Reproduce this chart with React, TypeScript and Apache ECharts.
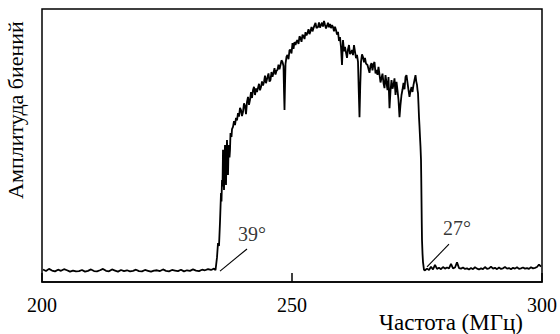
import React, { useEffect, useRef } from "react";
import * as echarts from "echarts";

// Frequency axis ticks (MHz)
const xTicks = [200, 250, 300];

// Noise floor below the band: [frequency MHz, amplitude a.u.]
const baselineLeft: number[][] = [
  [200.2, 4.6], [200.8, 4.0], [201.4, 4.8], [202.0, 4.2], [202.6, 3.9], [203.2, 4.5],
  [203.8, 4.1], [204.4, 4.7], [205.0, 4.3], [205.6, 3.8], [206.2, 4.2], [206.8, 3.9],
  [207.4, 4.0], [208.0, 4.4], [208.6, 3.8], [209.2, 4.1], [209.8, 4.6], [210.4, 4.0],
  [211.0, 3.9], [211.6, 4.3], [212.2, 4.8], [212.8, 4.1], [213.4, 3.9], [214.0, 4.6],
  [214.6, 4.2], [215.2, 3.8], [215.8, 4.4], [216.4, 4.0], [217.0, 4.3], [217.6, 3.9],
  [218.2, 4.1], [218.8, 4.5], [219.4, 4.0], [220.0, 3.9], [220.6, 4.4], [221.2, 4.1],
  [221.8, 3.8], [222.4, 4.2], [223.0, 4.3], [223.6, 4.0], [224.2, 4.6], [224.8, 4.1],
  [225.4, 3.9], [226.0, 4.4], [226.6, 4.2], [227.2, 4.0], [227.8, 4.5], [228.4, 3.9],
  [229.0, 4.3], [229.6, 4.1], [230.2, 4.6], [230.8, 4.2], [231.4, 4.0], [232.0, 4.5],
  [232.6, 4.3], [233.2, 4.7], [233.8, 4.4], [234.4, 4.9], [234.7, 4.3],
];

// Beat-signal band between ~235 and ~276 MHz
const band: number[][] = [
  [235.0, 9.0], [235.2, 14.3], [235.4, 13.2], [235.6, 22.0], [235.8, 32.6], [235.9, 29.5],
  [236.0, 37.4], [236.1, 35.0], [236.2, 48.4], [236.3, 40.1], [236.4, 33.7], [236.5, 44.0],
  [236.6, 50.2], [236.7, 41.0], [236.8, 35.5], [236.9, 46.3], [237.0, 52.0], [237.1, 44.8],
  [237.2, 39.2], [237.3, 47.5], [237.4, 50.2], [237.5, 45.6], [237.6, 48.4], [237.7, 54.6],
  [237.9, 53.1], [238.0, 56.0], [238.2, 56.8], [238.4, 58.9], [238.6, 57.5], [238.8, 60.1],
  [239.0, 59.2], [239.2, 61.9], [239.4, 60.6], [239.6, 63.8], [239.8, 63.0], [240.0, 60.8],
  [240.2, 62.3], [240.4, 65.4], [240.6, 64.5], [240.8, 61.5], [241.0, 66.0], [241.2, 67.8],
  [241.4, 64.9], [241.6, 66.7], [241.8, 69.6], [242.0, 67.4], [242.2, 70.3], [242.4, 71.5],
  [242.6, 68.5], [242.8, 70.9], [243.0, 69.6], [243.2, 71.1], [243.4, 72.6], [243.6, 70.2],
  [243.8, 71.4], [244.0, 73.5], [244.2, 72.0], [244.4, 73.3], [244.6, 75.6], [244.8, 72.8],
  [245.1, 75.1], [245.3, 76.4], [245.5, 73.4], [245.7, 74.0], [245.9, 76.9], [246.1, 75.2],
  [246.3, 76.6], [246.5, 78.3], [246.7, 76.0], [246.9, 77.4], [247.1, 77.7], [247.3, 79.6],
  [247.5, 77.9], [247.7, 79.5], [247.9, 81.2], [248.1, 80.6], [248.3, 79.1], [248.4, 70.0],
  [248.5, 63.0], [248.6, 72.0], [248.7, 79.9], [248.9, 82.5], [249.1, 83.2], [249.3, 81.6],
  [249.5, 84.9], [249.7, 85.0], [249.9, 83.7], [250.1, 87.5], [250.3, 85.4], [250.5, 87.9],
  [250.7, 86.8], [250.9, 88.1], [251.1, 88.6], [251.3, 87.2], [251.5, 90.0], [251.7, 89.4],
  [251.9, 88.0], [252.1, 90.6], [252.3, 90.1], [252.5, 89.0], [252.7, 91.5], [252.9, 90.3],
  [253.1, 91.2], [253.3, 92.6], [253.5, 90.8], [253.7, 91.9], [253.9, 93.4], [254.1, 91.8],
  [254.3, 93.0], [254.5, 94.0], [254.7, 94.9], [254.9, 93.0], [255.2, 93.4], [255.4, 95.1],
  [255.6, 93.2], [255.8, 94.1], [256.0, 95.0], [256.2, 93.6], [256.4, 95.6], [256.6, 94.2],
  [256.8, 92.9], [257.0, 93.8], [257.2, 95.0], [257.4, 93.3], [257.6, 94.5], [257.8, 93.0],
  [258.0, 94.1], [258.2, 93.4], [258.4, 91.8], [258.6, 93.5], [258.8, 92.3], [259.0, 90.6],
  [259.2, 91.6], [259.4, 88.3], [259.6, 89.7], [259.8, 86.0], [260.0, 79.5], [260.1, 84.0],
  [260.2, 88.6], [260.4, 84.5], [260.6, 86.1], [260.8, 84.0], [261.0, 82.1], [261.2, 85.3],
  [261.4, 86.8], [261.6, 83.5], [261.8, 84.0], [262.0, 85.0], [262.2, 83.1], [262.4, 86.8],
  [262.6, 84.4], [262.8, 82.0], [263.0, 83.2], [263.2, 80.6], [263.35, 70.0], [263.5, 60.4],
  [263.65, 72.0], [263.8, 80.6], [264.0, 83.4], [264.2, 82.4], [264.4, 80.5], [264.6, 82.1],
  [264.8, 80.0], [265.1, 79.5], [265.3, 78.0], [265.5, 76.6], [265.7, 79.3], [265.9, 80.2],
  [266.1, 77.5], [266.3, 79.8], [266.5, 80.6], [266.7, 76.4], [266.9, 77.7], [267.1, 75.9],
  [267.3, 78.8], [267.5, 76.0], [267.7, 73.1], [267.9, 74.7], [268.1, 76.3], [268.3, 72.9],
  [268.5, 71.0], [268.7, 75.8], [268.9, 73.0], [269.1, 70.3], [269.3, 75.1], [269.4, 69.0],
  [269.5, 63.7], [269.7, 70.0], [269.9, 74.0], [270.1, 70.8], [270.3, 72.2], [270.5, 74.6],
  [270.7, 68.5], [270.9, 73.3], [271.1, 70.2], [271.3, 66.7], [271.5, 60.4], [271.7, 65.0],
  [271.9, 68.5], [272.1, 70.5], [272.3, 72.9], [272.5, 70.6], [272.7, 75.1], [272.9, 75.8],
  [273.1, 73.0], [273.3, 70.3], [273.5, 67.8], [273.7, 70.0], [273.9, 71.4], [274.1, 69.6],
  [274.3, 72.2], [274.5, 74.0], [274.7, 75.8], [274.85, 73.5], [275.0, 72.2], [275.1, 70.4],
  [275.2, 69.2], [275.3, 65.0], [275.4, 60.4], [275.5, 57.0], [275.6, 53.1], [275.7, 49.5],
  [275.8, 44.7], [275.85, 38.0], [275.9, 30.0], [275.95, 22.0], [276.0, 15.4], [276.1, 10.5],
  [276.2, 7.3], [276.4, 4.4],
];

// Noise floor above the band
const baselineRight: number[][] = [
  [276.6, 4.3], [277.0, 4.9], [277.4, 4.4], [277.8, 5.6], [278.2, 4.6], [278.6, 6.3],
  [279.0, 4.8], [279.4, 5.2], [279.8, 4.7], [280.2, 5.5], [280.6, 4.9], [281.0, 5.3],
  [281.4, 5.0], [281.8, 6.6], [282.2, 5.0], [282.6, 5.3], [283.0, 7.2], [283.4, 5.1],
  [283.8, 4.9], [284.2, 5.3], [284.6, 4.8], [285.0, 5.0], [285.4, 4.6], [285.8, 5.1],
  [286.2, 4.7], [286.6, 5.4], [287.0, 4.9], [287.4, 4.6], [287.8, 5.0], [288.2, 4.7],
  [288.6, 5.5], [289.0, 4.8], [289.4, 5.0], [289.8, 5.6], [290.2, 4.9], [290.6, 5.2],
  [291.0, 4.7], [291.4, 5.3], [291.8, 4.8], [292.2, 5.0], [292.6, 5.5], [293.0, 4.9],
  [293.4, 5.1], [293.8, 4.7], [294.2, 5.2], [294.6, 4.9], [295.0, 5.4], [295.4, 4.8],
  [295.8, 5.0], [296.2, 5.3], [296.6, 4.9], [297.0, 5.1], [297.4, 4.8], [297.8, 5.4],
  [298.2, 5.0], [298.6, 5.2], [299.0, 5.5], [299.4, 6.4], [299.8, 5.6],
];

// Edge-angle annotations
const angleLabels = ["39°", "27°"];
const angleLabelPos: number[][] = [[242.0, 17.6], [283.0, 19.8]];
const leaderLeft: number[][] = [[235.6, 4.0], [241.0, 12.1]];
const leaderRight: number[][] = [[277.0, 5.5], [281.4, 13.9]];

const xName = "Частота (МГц)";
const yName = "Амплитуда биений";

const FONT = "Liberation Serif";

export default function App() {
  const ref = useRef<HTMLDivElement>(null);

  useEffect(() => {
    if (!ref.current) return;
    const chart = echarts.init(ref.current, undefined, { renderer: "svg" });
    const spectrum = [...baselineLeft, ...band, ...baselineRight];
    chart.setOption({
      animation: false,
      backgroundColor: "#fff",
      grid: {
        left: 42,
        right: 13,
        top: 9,
        bottom: 52,
        show: true,
        borderColor: "#000",
        borderWidth: 1.5,
        backgroundColor: "transparent",
      },
      xAxis: {
        type: "value",
        min: xTicks[0],
        max: xTicks[xTicks.length - 1],
        interval: 50,
        axisLine: { show: true, lineStyle: { color: "#000", width: 1.5 } },
        axisTick: { show: true, inside: true, length: 9, lineStyle: { color: "#000", width: 1.5 } },
        axisLabel: {
          color: "#000",
          fontSize: 20,
          fontFamily: FONT,
          margin: 13,
          showMaxLabel: true,
          showMinLabel: true,
        },
        splitLine: { show: false },
      },
      yAxis: {
        type: "value",
        min: 0,
        max: 100,
        axisLine: { show: false },
        axisTick: { show: false },
        axisLabel: { show: false },
        splitLine: { show: false },
      },
      series: [
        {
          type: "line",
          data: spectrum,
          showSymbol: false,
          lineStyle: { color: "#000", width: 1.8 },
          silent: true,
        },
        {
          type: "line",
          data: leaderLeft,
          showSymbol: false,
          lineStyle: { color: "#000", width: 1.1 },
          silent: true,
        },
        {
          type: "line",
          data: leaderRight,
          showSymbol: false,
          lineStyle: { color: "#000", width: 1.1 },
          silent: true,
        },
        {
          type: "scatter",
          data: angleLabelPos,
          symbolSize: 0,
          silent: true,
          label: {
            show: true,
            position: "inside",
            color: "#000",
            fontSize: 20,
            fontFamily: FONT,
            formatter: (p: any) => angleLabels[p.dataIndex],
          },
        },
      ],
      graphic: [
        {
          type: "text",
          x: 15,
          y: 110,
          rotation: Math.PI / 2,
          style: {
            text: yName,
            fill: "#000",
            fontSize: 22,
            fontFamily: FONT,
            textAlign: "center",
            textVerticalAlign: "middle",
          },
        },
        {
          type: "text",
          x: 451,
          y: 322,
          style: {
            text: xName,
            fill: "#000",
            fontSize: 23,
            fontFamily: FONT,
            textAlign: "center",
            textVerticalAlign: "middle",
          },
        },
      ],
    });
    return () => chart.dispose();
  }, []);

  return (
    <div
      ref={ref}
      style={{ position: "fixed", left: 0, top: 0, width: 560, height: 334, background: "#fff" }}
    />
  );
}
